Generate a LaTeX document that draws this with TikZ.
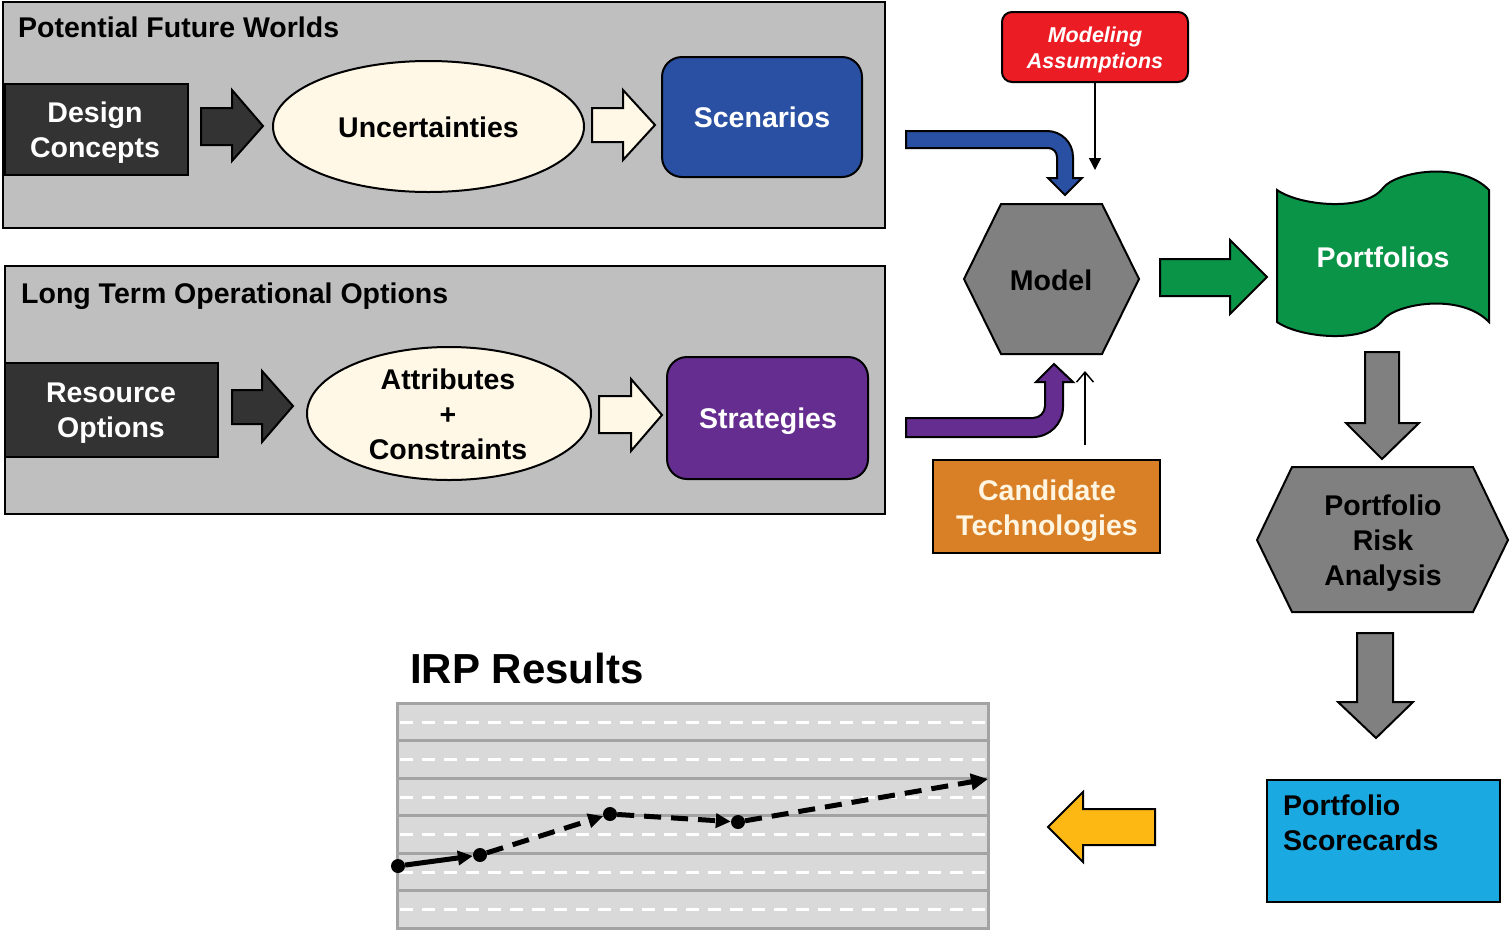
\documentclass[tikz,border=0pt]{standalone}
\usepackage{fontspec}
\setmainfont{Liberation Sans}
\usetikzlibrary{arrows.meta,shapes.geometric}
\definecolor{panelgray}{HTML}{BFBFBF}
\definecolor{darkbox}{HTML}{333333}
\definecolor{cream}{HTML}{FFF8E7}
\definecolor{scenblue}{HTML}{2A50A3}
\definecolor{stratpurple}{HTML}{662D91}
\definecolor{modred}{HTML}{EC1C24}
\definecolor{modelgray}{HTML}{808080}
\definecolor{candorange}{HTML}{D98026}
\definecolor{candtext}{HTML}{FFF5E1}
\definecolor{portgreen}{HTML}{0A9447}
\definecolor{scoreblue}{HTML}{1BA9E1}
\definecolor{arrowyellow}{HTML}{FDB813}
\definecolor{chartfill}{HTML}{D9D9D9}
\definecolor{chartline}{HTML}{A3A3A3}
\tikzset{
  panel/.style={draw=black, line width=2pt, fill=panelgray},
  blk/.style={draw=black, line width=2pt},
  boxnode/.style={draw=black, line width=2pt, inner sep=0pt, rectangle},
  txt/.style={font=\bfseries\fontsize{28.5}{35}\selectfont, inner sep=0pt, align=center},
  dot/.style={circle, fill=black, minimum size=14pt, inner sep=0pt},
  dataline/.style={black, line width=5pt},
  dashline/.style={dataline, dash pattern=on 17pt off 10pt}
}
\begin{document}
\begin{tikzpicture}[x=1pt,y=-1pt,line join=miter]
\useasboundingbox (0,0) rectangle (1510,930);

% ---------- Panel 1 ----------
\draw[panel] (3,2) rectangle (885,228);
\node[txt, anchor=base west] (t1) at (18,37) {Potential Future Worlds};
\node[boxnode, fill=darkbox, minimum width=183pt, minimum height=91pt] (dc) at (96.5,129.5) {};
\node[txt, text=white] (dctext) at (95,132.3) {Design\\Concepts};
\draw[blk, fill=darkbox] (201,108) -- (232,108) -- (232,90) -- (263,126) -- (232,161) -- (232,145) -- (201,145) -- cycle;
\node[ellipse, draw=black, line width=2pt, fill=cream, minimum width=311pt, minimum height=131pt, inner sep=0pt] (unc) at (428.5,126.5) {};
\node[txt, anchor=base] (unctext) at (428.5,137) {Uncertainties};
\draw[blk, fill=cream] (592,108) -- (623,108) -- (623,90) -- (655,125) -- (623,160) -- (623,142) -- (592,142) -- cycle;
\node[boxnode, fill=scenblue, rounded corners=20pt, minimum width=200pt, minimum height=120pt] (scen) at (762,117) {};
\node[txt, text=white, anchor=base] (scentext) at (762,127) {Scenarios};

% ---------- Panel 2 ----------
\draw[panel] (5,266) rectangle (885,514);
\node[txt, anchor=base west] (t2) at (21,303) {Long Term Operational Options};
\node[boxnode, fill=darkbox, minimum width=213pt, minimum height=94pt] (ro) at (111.5,410) {};
\node[txt, text=white] (rotext) at (111,412.8) {Resource\\Options};
\draw[blk, fill=darkbox] (232,390) -- (262,390) -- (262,371) -- (293,406) -- (262,442) -- (262,424) -- (232,424) -- cycle;
\node[ellipse, draw=black, line width=2pt, fill=cream, minimum width=284pt, minimum height=133pt, inner sep=0pt] (att) at (449,413.5) {};
\node[txt] (atttext) at (448,414.8) {Attributes\\+\\Constraints};
\draw[blk, fill=cream] (599,396) -- (631,396) -- (631,379) -- (662,415) -- (631,451) -- (631,433) -- (599,433) -- cycle;
\node[boxnode, fill=stratpurple, rounded corners=20pt, minimum width=201pt, minimum height=122pt] (strat) at (767.5,418) {};
\node[txt, text=white, anchor=base] (strattext) at (768,428) {Strategies};

% ---------- Model area ----------
\node[boxnode, fill=modred, rounded corners=10pt, minimum width=186pt, minimum height=70pt] (ma) at (1095,47) {};
\node[font=\bfseries\itshape\fontsize{21.5}{26}\selectfont, text=white, align=center, inner sep=0pt] (matext) at (1095,49.5) {Modeling\\Assumptions};
\coordinate (maend) at (1095,170);
\draw[line width=1.5pt, -{Triangle[length=12pt,width=12pt]}] (ma.south) -- (maend);

% blue bent arrow
\draw[blk, fill=scenblue] (906,131) -- (1047,131) .. controls (1061.4,131) and (1073,142.6) .. (1073,157) -- (1073,178) -- (1082,178) -- (1065,195) -- (1048,178) -- (1057,178) -- (1057,157) .. controls (1057,152) and (1053,148) .. (1048,148) -- (906,148) -- cycle;

% model hexagon
\draw[blk, fill=modelgray] (1001,204) -- (1102,204) -- (1139,279) -- (1102,354) -- (1001,354) -- (964,279) -- cycle;
\node[txt, anchor=base] (model) at (1051,290) {Model};

% purple bent arrow
\draw[blk, fill=stratpurple] (906,418) -- (1033,418) .. controls (1039.6,418) and (1045,412.6) .. (1045,406) -- (1045,382) -- (1036,382) -- (1054,364) -- (1073,382) -- (1063,382) -- (1063,407) .. controls (1063,423.6) and (1049.6,437) .. (1033,437) -- (906,437) -- cycle;

% candidate technologies
\node[boxnode, fill=candorange, minimum width=227pt, minimum height=93pt] (cand) at (1046.5,506.5) {};
\node[txt, text=candtext] (candtxt) at (1047,510.3) {Candidate\\Technologies};
\coordinate (ctstart) at (1085,445);
\coordinate (ctend) at (1085,371);
\draw[line width=1.5pt, -{Straight Barb[length=10pt,width=17pt,line width=1.5pt]}] (ctstart) -- (ctend);

% green arrow
\draw[blk, fill=portgreen] (1160,259) -- (1230,259) -- (1230,240) -- (1267,277) -- (1230,314) -- (1230,296) -- (1160,296) -- cycle;

% portfolios wavy shape
\draw[blk, fill=portgreen] (1277,190) .. controls (1300,206) and (1365,212) .. (1383,188) .. controls (1395,172) and (1460,160) .. (1489,190) -- (1489,322) .. controls (1460,292) and (1395,304) .. (1383,320) .. controls (1365,344) and (1300,338) .. (1277,322) -- cycle;
\node[txt, text=white, anchor=base] (port) at (1383,267) {Portfolios};

% gray arrow 1
\draw[blk, fill=modelgray] (1365,352) -- (1399,352) -- (1399,423) -- (1419,423) -- (1382,459) -- (1346,423) -- (1365,423) -- cycle;

% risk hexagon
\draw[blk, fill=modelgray] (1292,467) -- (1473,467) -- (1508,540) -- (1473,612) -- (1292,612) -- (1257,540) -- cycle;
\node[txt] (risk) at (1383,542.8) {Portfolio\\Risk\\Analysis};

% gray arrow 2
\draw[blk, fill=modelgray] (1357,633) -- (1393,633) -- (1393,702) -- (1413,702) -- (1376,738) -- (1338,702) -- (1357,702) -- cycle;

% scorecards
\node[boxnode, fill=scoreblue, minimum width=233pt, minimum height=122pt] (score) at (1383.5,841) {};
\node[txt, align=left, anchor=north west] (scoretext) at (1283,794.3) {Portfolio\\Scorecards};

% yellow arrow
\draw[blk, fill=arrowyellow] (1155,809) -- (1083,809) -- (1083,792) -- (1048,827) -- (1083,862) -- (1083,845) -- (1155,845) -- cycle;

% ---------- IRP results ----------
\node[font=\bfseries\fontsize{42}{50}\selectfont, anchor=base west, inner sep=0pt] (irp) at (410,683) {IRP Results};
\draw[draw=chartline, line width=3pt, fill=chartfill] (397,703) rectangle (988,928);
\foreach \yy in {740.5,778,815.5,853,890.5} {
  \draw[chartline, line width=3pt] (397,\yy) -- (988,\yy);
}
\foreach \yy in {722,759.5,797,834.5,872,909.5} {
  \draw[white, line width=3pt, dash pattern=on 13pt off 9pt] (400,\yy) -- (987,\yy);
}
\node[dot] (p0) at (398,866) {};
\node[dot] (p1) at (480,855) {};
\node[dot] (p2) at (610,814) {};
\node[dot] (p3) at (738,822) {};
\coordinate (p4) at (988,779);
\draw[dataline, -{Triangle[length=15pt,width=14pt]}] (p0) -- (p1);
\draw[dashline, -{Triangle[length=15pt,width=14pt]}] (p1) -- (p2);
\draw[dashline, -{Triangle[length=15pt,width=14pt]}] (p2) -- (p3);
\draw[dashline, -{Triangle[length=17pt,width=16pt]}] (p3) -- (p4);
\end{tikzpicture}
\end{document}
